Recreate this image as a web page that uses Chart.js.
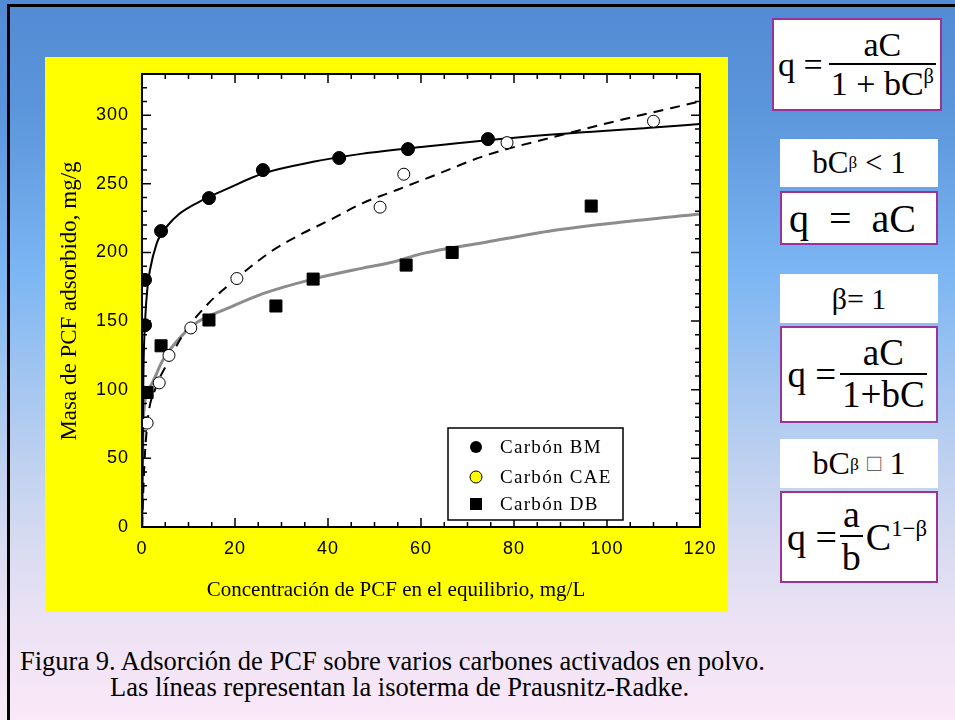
<!DOCTYPE html>
<html>
<head>
<meta charset="utf-8">
<script src="https://cdn.jsdelivr.net/npm/chart.js@4.4.1/dist/chart.umd.min.js"></script>
<style>
  html, body { margin: 0; padding: 0; }
  body {
    width: 955px; height: 720px; position: relative; overflow: hidden;
    background: linear-gradient(to bottom, #528bd3 0%, #5b95db 15%, #7cb6f3 38%, #a8c8f0 55%, #d0d8f0 72%, #ebe2f4 86%, #fbe8f8 100%);
    font-family: "Liberation Serif", "DejaVu Serif", serif;
  }
  #frame { position: absolute; left: 7px; top: 4px; right: -5px; bottom: -5px; border-left: 3px solid #000; border-top: 3px solid #000; }
  #panel { position: absolute; left: 45px; top: 57px; width: 683px; height: 555px; background: #ffff00; }
  #panel canvas { position: absolute; left: 0; top: 0; }
  .box { position: absolute; background: #fff; display: flex; align-items: center; justify-content: center; color: #000; box-sizing: border-box; white-space: nowrap; }
  .eq { border: 2px solid #993399; }
  .frac { display: inline-flex; flex-direction: column; align-items: center; vertical-align: middle; margin-left: 8px; }
  .frac .num { padding: 0 4px; line-height: 1.05; }
  .frac .den { border-top: 2px solid #000; padding: 0 2px; line-height: 1.1; }
  sup { font-size: 60%; vertical-align: 0.6em; line-height: 0; }
  .caption { position: absolute; font-size: 26.5px; color: #000; white-space: nowrap; }
</style>
</head>
<body>
<div id="frame"></div>
<div id="panel"><canvas id="myChart" width="683" height="555"></canvas></div>

<div class="box eq" style="left:772px;top:18px;width:170px;height:93px;font-size:34px;">
  <span>q =</span><span class="frac" style="margin-left:6px"><span class="num">aC</span><span class="den">1 + bC<sup>β</sup></span></span>
</div>
<div class="box" style="left:780px;top:139px;width:158px;height:48px;font-size:31px;">bC<sup style="font-size:55%">β</sup>&nbsp;&lt; 1</div>
<div class="box eq" style="left:780px;top:191px;width:158px;height:54px;font-size:40px;justify-content:flex-start;padding-left:7px;">q&nbsp; =&nbsp; aC</div>
<div class="box" style="left:780px;top:274px;width:158px;height:49px;font-size:30px;">β= 1</div>
<div class="box eq" style="left:780px;top:326px;width:158px;height:97px;font-size:37px;padding-right:4px;">
  <span>q =</span><span class="frac" style="margin-left:4px"><span class="num">aC</span><span class="den">1+bC</span></span>
</div>
<div class="box" style="left:780px;top:439px;width:158px;height:49px;font-size:32px;">bC<sup style="font-size:55%">β</sup>&nbsp;<span style="color:#666;font-size:75%">□</span>&nbsp;1</div>
<div class="box eq" style="left:780px;top:491px;width:158px;height:92px;font-size:38px;padding-right:4px;">
  <span>q =</span><span class="frac" style="margin-left:2px;margin-right:2px"><span class="num">a</span><span class="den">b</span></span><span>C<sup>1−β</sup></span>
</div>

<div class="caption" style="left:20px;top:646px;">Figura 9. Adsorción de PCF sobre varios carbones activados en polvo.</div>
<div class="caption" style="left:110px;top:672px;">Las líneas representan la isoterma de Prausnitz-Radke.</div>

<script>
const bmX = [0.65, 0.65, 4.1, 14.4, 26.0, 42.4, 57.2, 74.4];
const bmY = [147, 180, 215.6, 239.6, 260, 268.8, 275.3, 282.6];

const caeX = [1.1, 3.7, 5.8, 10.5, 20.4, 51.2, 56.3, 78.5, 110];
const caeY = [75.7, 105, 125, 145, 181, 233, 257, 280, 295.6];

const dbX = [1.1, 4.1, 14.4, 28.8, 36.8, 56.8, 66.7, 96.6];
const dbY = [98, 132, 150.8, 161, 180.6, 190.8, 200, 233.8];

// fitted isotherm lines
const bmFitX = [0, 0.3, 0.7, 1.2, 1.7, 3.2, 4.1, 5.6, 7.8, 11.8, 14.4, 17.4, 26, 36.8, 47.5, 60.6, 81.3, 110, 120];
const bmFitY = [0, 110, 152, 175, 187, 207, 213, 220, 227.5, 236, 240.5, 245, 257.5, 266, 272, 277, 284, 291, 293.5];

const caeFitX = [0, 0.5, 1.3, 2.8, 5.4, 9.2, 14.6, 17.4, 23.9, 28.2, 34.6, 40.4, 47.5, 54.8, 62, 74.2, 88.4, 102.8, 120];
const caeFitY = [0, 45, 80, 100, 119, 142, 164, 172.6, 191, 201.7, 214, 223.6, 236, 245.5, 255, 271, 284, 296.4, 310];

const dbFitX = [0, 0.1, 0.3, 1.7, 4.5, 8.2, 11.8, 18.9, 26, 36.8, 47.5, 54, 59.8, 74.2, 88.4, 102.8, 120];
const dbFitY = [0, 40, 80, 102, 121.6, 138, 149, 160, 170, 180.6, 188.6, 193, 198.8, 207.6, 216, 222, 228];

const legendNames = ['Carbón BM', 'Carbón CAE', 'Carbón DB'];
const xTitle = 'Concentración de PCF en el equilibrio, mg/L';
const yTitle = 'Masa de PCF adsorbido, mg/g';

const toXY = (xs, ys) => xs.map((x, i) => ({ x: x, y: ys[i] }));

// white plot area + frame + inward ticks
const plotBackground = {
  id: 'plotBackground',
  beforeDraw(chart) {
    const { ctx, chartArea: a } = chart;
    // spaced-out digits like the original (kept as base state for the tick labels)
    ctx.letterSpacing = '1px';
    ctx.save();
    ctx.fillStyle = '#fff';
    ctx.fillRect(a.left, a.top, a.right - a.left, a.bottom - a.top);
    ctx.restore();
  },
  afterDatasetsDraw(chart) {
    const { ctx, chartArea: a, scales } = chart;
    ctx.save();
    ctx.strokeStyle = '#000';
    ctx.lineWidth = 2;
    ctx.strokeRect(a.left, a.top, a.right - a.left, a.bottom - a.top);
    ctx.lineWidth = 1.5;
    ctx.beginPath();
    for (let v = 0; v <= 120; v += 5) {
      const px = scales.x.getPixelForValue(v);
      const len = v % 20 === 0 ? 9 : 5;
      ctx.moveTo(px, a.bottom); ctx.lineTo(px, a.bottom - len);
      ctx.moveTo(px, a.top); ctx.lineTo(px, a.top + len);
    }
    for (let v = 0; v <= 330; v += 10) {
      const py = scales.y.getPixelForValue(v);
      const len = v % 50 === 0 ? 9 : 5;
      ctx.moveTo(a.left, py); ctx.lineTo(a.left + len, py);
      ctx.moveTo(a.right, py); ctx.lineTo(a.right - len, py);
    }
    ctx.stroke();
    ctx.restore();
  }
};

// legend box and axis titles
const boxLegend = {
  id: 'boxLegend',
  afterDraw(chart) {
    const { ctx, chartArea: a } = chart;
    const left = a.left + 306, top = a.top + 354;
    ctx.save();
    ctx.fillStyle = '#fff';
    ctx.fillRect(left, top, 175, 92);
    ctx.strokeStyle = '#000';
    ctx.lineWidth = 1.5;
    ctx.strokeRect(left, top, 175, 92);
    const rows = [top + 19, top + 49, top + 76];
    ctx.font = '19px "Liberation Serif"';
    ctx.letterSpacing = '1.3px';
    ctx.textBaseline = 'middle';
    rows.forEach((y, i) => {
      const mx = left + 28;
      ctx.beginPath();
      ctx.lineWidth = 1;
      if (i === 0) {
        ctx.fillStyle = '#000';
        ctx.arc(mx, y, 6, 0, Math.PI * 2);
        ctx.fill();
      } else if (i === 1) {
        ctx.fillStyle = '#ffff00';
        ctx.arc(mx, y, 6, 0, Math.PI * 2);
        ctx.fill();
        ctx.stroke();
      } else {
        ctx.fillStyle = '#000';
        ctx.fillRect(mx - 6, y - 6, 12, 12);
      }
      ctx.fillStyle = '#000';
      ctx.fillText(legendNames[i], left + 52, y + 1);
    });

    // axis titles
    ctx.letterSpacing = '0px';
    ctx.fillStyle = '#000';
    ctx.textAlign = 'center';
    ctx.font = '21px "Liberation Serif"';
    ctx.fillText(xTitle, 351, 533);
    ctx.font = '23px "Liberation Serif"';
    ctx.translate(25, 244);
    ctx.rotate(-Math.PI / 2);
    ctx.fillText(yTitle, 0, 0);
    ctx.restore();
  }
};

const ctx = document.getElementById('myChart');
new Chart(ctx, {
  type: 'scatter',
  data: {
    datasets: [
      { label: legendNames[0], data: toXY(bmX, bmY), pointStyle: 'circle', pointRadius: 6.5,
        backgroundColor: '#000', borderColor: '#000', borderWidth: 1 },
      { label: legendNames[1], data: toXY(caeX, caeY), pointStyle: 'circle', pointRadius: 6,
        backgroundColor: '#fff', borderColor: '#000', borderWidth: 1 },
      { label: legendNames[2], data: toXY(dbX, dbY), pointStyle: 'rect', pointRadius: 8.5,
        backgroundColor: '#000', borderColor: '#000', borderWidth: 1 },
      { label: 'BM fit', data: toXY(bmFitX, bmFitY), showLine: true, pointRadius: 0,
        borderColor: '#000', borderWidth: 2, cubicInterpolationMode: 'monotone' },
      { label: 'CAE fit', data: toXY(caeFitX, caeFitY), showLine: true, pointRadius: 0,
        borderColor: '#000', borderWidth: 2, borderDash: [10, 7], cubicInterpolationMode: 'monotone' },
      { label: 'DB fit', data: toXY(dbFitX, dbFitY), showLine: true, pointRadius: 0,
        borderColor: '#8c8c8c', borderWidth: 3, cubicInterpolationMode: 'monotone' },
    ],
  },
  options: {
    responsive: false,
    animation: false,
    layout: { padding: { left: 0, top: 17, right: 28, bottom: 0 } },
    plugins: {
      legend: { display: false },
      tooltip: { enabled: false },
    },
    scales: {
      x: {
        type: 'linear', min: 0, max: 120,
        grid: { display: false, drawTicks: false },
        border: { display: false },
        ticks: { stepSize: 20, padding: 11, color: '#000', font: { family: '"Liberation Sans"', size: 18 } },
        afterFit(scale) { scale.height = 85; scale.paddingLeft = 0; scale.paddingRight = 0; },
      },
      y: {
        type: 'linear', min: 0, max: 330,
        grid: { display: false, drawTicks: false },
        border: { display: false },
        ticks: { stepSize: 50, includeBounds: false, padding: 13, color: '#000', font: { family: '"Liberation Sans"', size: 18 } },
        afterFit(scale) { scale.width = 97; scale.paddingTop = 0; scale.paddingBottom = 0; },
      },
    },
  },
  plugins: [plotBackground, boxLegend],
});
</script>
</body>
</html>
